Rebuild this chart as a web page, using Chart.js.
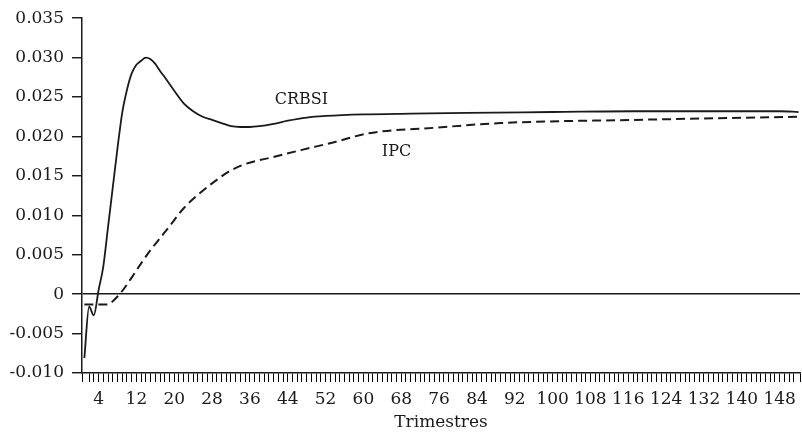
<!DOCTYPE html>
<html>
<head>
<meta charset="utf-8">
<title>CRBSI / IPC</title>
<script src="https://cdn.jsdelivr.net/npm/chart.js@4/dist/chart.umd.min.js"></script>
<style>
  html, body { margin: 0; padding: 0; background: #fff; }
  #wrap { width: 802px; height: 433px; position: relative; }
</style>
</head>
<body>
<div id="wrap"><canvas id="irfChart"></canvas></div>
<script>
// Data (quarter -> response)
const crbsiQuarters = [1, 2, 3, 4, 5, 6, 7, 8, 9, 10, 11, 12, 13, 14, 15, 16, 17, 18, 20, 22, 24, 26, 28, 30, 32, 34, 36, 38, 41, 44, 48, 52, 60, 70, 82, 100, 117, 135, 148, 152];
const crbsiValues = [-0.0081, -0.0016, -0.0027, 0.0005, 0.0035, 0.0085, 0.0135, 0.0185, 0.0230, 0.0259, 0.0280, 0.0291, 0.0296, 0.0300, 0.0298, 0.0292, 0.0283, 0.0275, 0.0258, 0.0242, 0.0232, 0.0225, 0.0221, 0.0217, 0.0213, 0.0212, 0.0212, 0.0213, 0.0216, 0.0220, 0.0224, 0.0226, 0.0228, 0.0229, 0.0230, 0.0231, 0.0232, 0.0232, 0.0232, 0.0231];

const ipcQuarters = [1, 2, 3, 4, 5, 6, 7, 8, 9, 11, 13, 15, 17, 19, 22, 25, 29, 32, 35, 41, 47, 54, 61, 75, 89, 117, 152];
const ipcValues = [-0.0013, -0.0013, -0.0013, -0.0013, -0.0013, -0.0013, -0.0009, -0.0003, 0.0004, 0.0021, 0.0039, 0.0056, 0.0071, 0.0086, 0.0109, 0.0126, 0.0145, 0.0157, 0.0165, 0.0174, 0.0183, 0.0193, 0.0204, 0.0211, 0.0217, 0.0221, 0.0225];

const seriesNames = ['CRBSI', 'IPC'];
// where the series names sit, in data units (quarter, value)
const nameAnchors = [[46.9, 0.0247], [67.0, 0.0181]];

const yTicks = [-0.010, -0.005, 0, 0.005, 0.010, 0.015, 0.020, 0.025, 0.030, 0.035];
const xLabelStart = 4;
const xLabelStep = 8;

const FONT = "'DejaVu Serif', 'Liberation Serif', serif";
const INK = '#1a1a1a';

function toPoints(xs, ys) {
  return xs.map((x, i) => ({ x: x, y: ys[i] }));
}

function fmtY(v) {
  if (Math.abs(v) < 1e-9) return '0';
  return v.toFixed(3);
}

// -------------------------------------------------------------
// Series names written next to the curves
// -------------------------------------------------------------
const seriesNamePlugin = {
  id: 'seriesNames',
  afterDatasetsDraw(chart) {
    const { ctx, scales } = chart;
    ctx.save();
    ctx.font = '16px ' + FONT;
    ctx.fillStyle = INK;
    ctx.textAlign = 'center';
    ctx.textBaseline = 'middle';
    seriesNames.forEach((name, i) => {
      const [qx, qy] = nameAnchors[i];
      ctx.fillText(name, scales.x.getPixelForValue(qx), scales.y.getPixelForValue(qy));
    });
    ctx.restore();
  }
};

const ctx = document.getElementById('irfChart').getContext('2d');
new Chart(ctx, {
  type: 'line',
  data: {
    datasets: [{
      label: seriesNames[0],
      data: toPoints(crbsiQuarters, crbsiValues),
      borderColor: INK,
      borderWidth: 1.8,
      pointRadius: 0,
      fill: false,
      cubicInterpolationMode: 'monotone'
    }, {
      label: seriesNames[1],
      data: toPoints(ipcQuarters, ipcValues),
      borderColor: INK,
      borderWidth: 2,
      borderDash: [9, 5],
      pointRadius: 0,
      fill: false,
      cubicInterpolationMode: 'monotone'
    }]
  },
  options: {
    responsive: true,
    maintainAspectRatio: false,
    animation: false,
    layout: { padding: { top: 18, right: 2, bottom: 0, left: 0 } },
    plugins: {
      legend: { display: false },
      tooltip: { enabled: false }
    },
    scales: {
      x: {
        type: 'linear',
        min: 0.5,
        max: 152.3,
        // border after the grid layer so its position is already known
        border: { display: true, color: INK, width: 1.5, z: 2 },
        grid: {
          display: true,
          drawOnChartArea: false,
          drawTicks: true,
          color: '#000',
          tickColor: '#000',
          tickWidth: 1,
          tickLength: 9,
          lineWidth: 1,
          z: 1
        },
        ticks: {
          stepSize: 1,
          autoSkip: false,
          maxRotation: 0,
          minRotation: 0,
          padding: 7,
          color: INK,
          font: { family: FONT, size: 17 },
          callback: (v) => (Number.isInteger(v) && v >= xLabelStart && (v - xLabelStart) % xLabelStep === 0) ? String(v) : ''
        },
        title: {
          display: true,
          text: 'Trimestres',
          color: INK,
          font: { family: FONT, size: 17 },
          padding: { top: 4, bottom: 0 }
        },
        afterFit: (s) => { s.height = 60; s.paddingLeft = 0; s.paddingRight = 0; }
      },
      y: {
        min: -0.010,
        max: 0.035,
        afterBuildTicks: (s) => { s.ticks = yTicks.map(v => ({ value: v })); },
        border: { display: true, color: INK, width: 1.5, z: 2 },
        grid: {
          display: true,
          drawTicks: true,
          color: (c) => (c.tick && c.tick.value === 0) ? INK : 'rgba(0,0,0,0)',
          lineWidth: 1.5,
          tickColor: '#000',
          tickWidth: 1.3,
          tickLength: 10,
          z: 1
        },
        ticks: {
          padding: 8,
          color: INK,
          font: { family: FONT, size: 17 },
          callback: (v) => fmtY(v)
        },
        afterFit: (s) => { s.width = 82; }
      }
    }
  },
  plugins: [seriesNamePlugin]
});
</script>
</body>
</html>
